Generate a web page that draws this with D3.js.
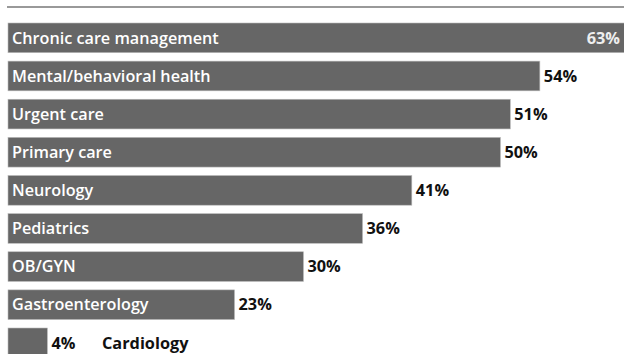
<!DOCTYPE html>
<html><head><meta charset="utf-8">
<script src="https://cdn.jsdelivr.net/npm/d3@7"></script>
<style>
html,body{margin:0;padding:0;background:#fff;}
svg{display:block;font-family:"Open Sans",Lato,sans-serif;}
</style></head>
<body>
<svg id="chart" width="624" height="354"></svg>
<script>
const categories = ["Chronic care management","Mental/behavioral health","Urgent care","Primary care","Neurology","Pediatrics","OB/GYN","Gastroenterology","Cardiology"];
const values = [63,54,51,50,41,36,30,23,4];
const valueLabels = ["63%","54%","51%","50%","41%","36%","30%","23%","4%"];

const W = 624, H = 354;
const svg = d3.select("#chart");
const x = d3.scaleLinear().domain([0, 63]).range([8, 628.5]);
const step = 38.125, bw = 29.7;
const y = d3.scaleBand().domain(categories)
  .range([23, 23 + step*(categories.length-1) + bw])
  .paddingInner(1 - bw/step).paddingOuter(0);

svg.append("line").attr("x1",7).attr("x2",W).attr("y1",7).attr("y2",7)
  .attr("stroke","#777").attr("stroke-width",1.5);

const rows = svg.selectAll("g.row").data(categories).join("g").attr("class","row");

rows.append("rect")
  .attr("x", x(0))
  .attr("y", d => y(d))
  .attr("width", (d,i) => x(values[i]) - x(0))
  .attr("height", y.bandwidth())
  .attr("fill","#666")
  .attr("stroke","#bbb").attr("stroke-width",0.6);

const fsIn = 16.2, fsOut = 16.3;
rows.each(function(d,i){
  const g = d3.select(this);
  const cy = y(d) + y.bandwidth()/2;
  const short = values[i] < 10;
  if (!short) {
    g.append("text").attr("x", 12).attr("y", cy).attr("dy","0.35em")
      .attr("fill","#fff").attr("font-size",fsIn).attr("font-weight",600).text(d);
  }
  if (i === 0) {
    g.append("text").attr("x", W-4).attr("y", cy).attr("dy","0.35em")
      .attr("text-anchor","end").attr("fill","#eee").attr("font-size",fsOut).attr("font-weight",700).text(valueLabels[i]);
  } else {
    g.append("text").attr("x", x(values[i]) + 4).attr("y", cy).attr("dy","0.35em")
      .attr("fill","#111").attr("font-size",fsOut).attr("font-weight",700).text(valueLabels[i]);
  }
  if (short) {
    g.append("text").attr("x", 102).attr("y", cy).attr("dy","0.35em")
      .attr("fill","#111").attr("font-size",fsOut).attr("font-weight",700).text(d);
  }
});
</script>
</body></html>
